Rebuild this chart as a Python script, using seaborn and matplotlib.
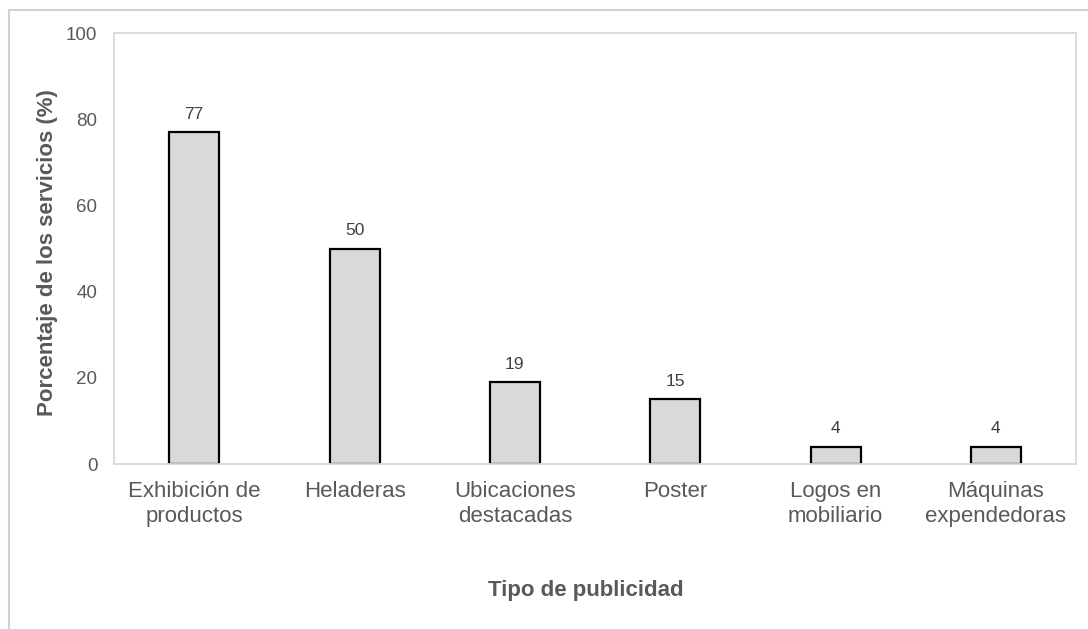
import matplotlib
matplotlib.use("Agg")
import matplotlib.pyplot as plt
import seaborn as sns
import pandas as pd
from matplotlib.patches import Rectangle

categorias = ["Exhibición de\nproductos", "Heladeras", "Ubicaciones\ndestacadas",
              "Poster", "Logos en\nmobiliario", "Máquinas\nexpendedoras"]
porcentajes = [77, 50, 19, 15, 4, 4]
yticks = [0, 20, 40, 60, 80, 100]

df = pd.DataFrame({"tipo": categorias, "pct": porcentajes})

sns.set_style("white")
plt.rcParams['font.family'] = ['Liberation Sans', 'DejaVu Sans']

fig = plt.figure(figsize=(10.88, 6.29), dpi=100)
ax = fig.add_axes([0.1048, 0.2623, 0.8842, 0.6852])

sns.barplot(data=df, x="tipo", y="pct", color="#d9d9d9", edgecolor="black",
            linewidth=1.6, width=0.312, saturation=1, ax=ax)

ax.bar_label(ax.containers[0], padding=7.5, fontsize=12.5, color="#404040")

ax.set_ylim(0, 100)
ax.set_xlim(-0.5, len(categorias) - 0.5)
ax.set_yticks(yticks)
ax.tick_params(axis="y", labelsize=13.5, labelcolor="#595959", length=0, pad=12)
ax.tick_params(axis="x", labelsize=16, labelcolor="#595959", length=0, pad=12)
for lbl in ax.get_xticklabels():
    lbl.set_linespacing(1.25)

for s in ax.spines.values():
    s.set_color("#d9d9d9")
    s.set_linewidth(1.3)

ax.set_xlabel("")
ax.set_ylabel("Porcentaje de los servicios (%)", fontsize=16, fontweight="bold",
              color="#595959")
ax.yaxis.set_label_coords(-0.058, 0.49)
fig.text(0.538, 0.0525, "Tipo de publicidad", ha="center", va="baseline",
         fontsize=16, fontweight="bold", color="#595959")

# marco exterior del gráfico
fig.patches.append(Rectangle((9 / 1088, -0.05), 1.1, 1.05 - 10 / 629,
                             transform=fig.transFigure, fill=False,
                             edgecolor="#d0d0d0", linewidth=1.5))

fig.savefig("out.png", dpi=100)
